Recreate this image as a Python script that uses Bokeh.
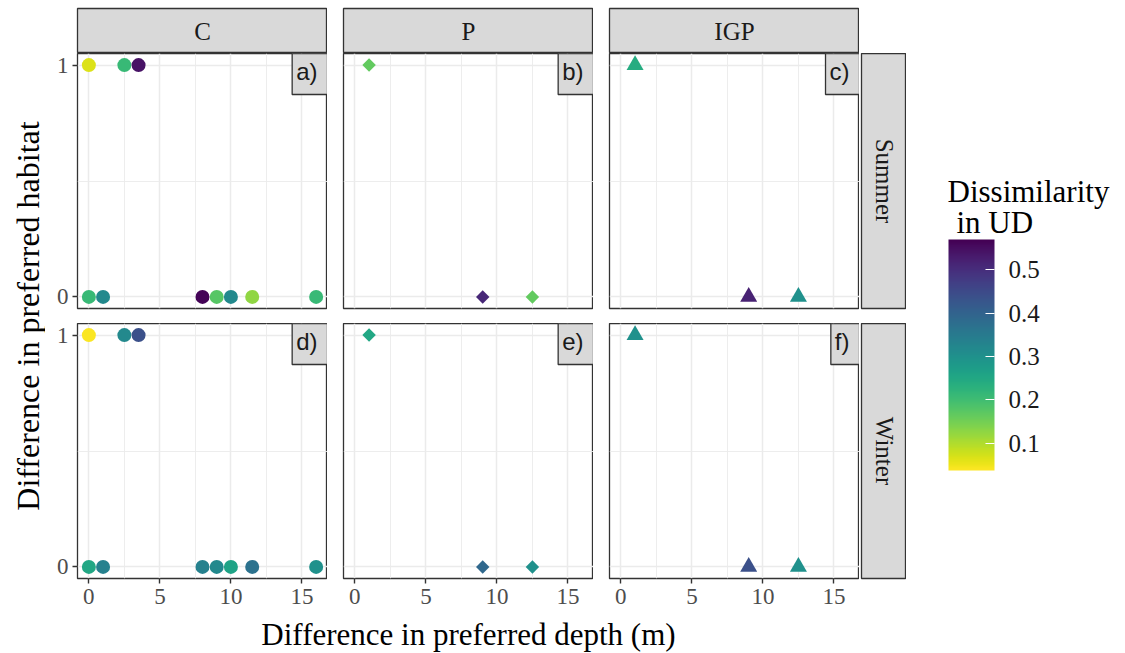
import numpy as np
from bokeh.plotting import figure
from bokeh.layouts import row, column
from bokeh.models import (Range1d, FixedTicker, LinearAxis, Grid, Label, ColorBar,
                          LinearColorMapper, ColumnDataSource)
from bokeh.palettes import Viridis256
from bokeh.core.properties import value
from bokeh.embed import file_html
from bokeh.resources import INLINE

# ---------------- data ----------------
sections = ["C", "P", "IGP"]
seasons = ["Summer", "Winter"]
tags = [["a)", "b)", "c)"], ["d)", "e)", "f)"]]
markers = ["circle", "square", "triangle"]

c_summer_depth = [0, 2.5, 3.5, 0, 1, 8, 9, 10, 11.5, 16]
c_summer_habitat = [1, 1, 1, 0, 0, 0, 0, 0, 0, 0]
c_summer_ud = [0.065, 0.21, 0.545, 0.21, 0.32, 0.565, 0.175, 0.32, 0.125, 0.21]

c_winter_depth = [0, 2.5, 3.5, 0, 1, 8, 9, 10, 11.5, 16]
c_winter_habitat = [1, 1, 1, 0, 0, 0, 0, 0, 0, 0]
c_winter_ud = [0.04, 0.32, 0.44, 0.25, 0.335, 0.335, 0.32, 0.26, 0.37, 0.30]

p_summer_depth = [1, 9, 12.5]
p_summer_habitat = [1, 0, 0]
p_summer_ud = [0.165, 0.51, 0.165]

p_winter_depth = [1, 9, 12.5]
p_winter_habitat = [1, 0, 0]
p_winter_ud = [0.25, 0.39, 0.30]

igp_summer_depth = [1, 9, 12.5]
igp_summer_habitat = [1, 0, 0]
igp_summer_ud = [0.24, 0.52, 0.30]

igp_winter_depth = [1, 9, 12.5]
igp_winter_habitat = [1, 0, 0]
igp_winter_ud = [0.30, 0.44, 0.30]

x_ticks = [0, 5, 10, 15]
x_minor = [2.5, 7.5, 12.5]
y_ticks = [0, 1]
legend_ticks = [0.1, 0.2, 0.3, 0.4, 0.5]
ud_low, ud_high = 0.037, 0.57

data = {
    ("Summer", "C"): (c_summer_depth, c_summer_habitat, c_summer_ud),
    ("Summer", "P"): (p_summer_depth, p_summer_habitat, p_summer_ud),
    ("Summer", "IGP"): (igp_summer_depth, igp_summer_habitat, igp_summer_ud),
    ("Winter", "C"): (c_winter_depth, c_winter_habitat, c_winter_ud),
    ("Winter", "P"): (p_winter_depth, p_winter_habitat, p_winter_ud),
    ("Winter", "IGP"): (igp_winter_depth, igp_winter_habitat, igp_winter_ud),
}

# ---------------- style ----------------
SERIF_NAME = "Liberation Serif"
SANS_NAME = "Liberation Sans"
SERIF = value(SERIF_NAME)
BORDER = "#333333"
GRIDC = "#ebebeb"
STRIPF = "#d9d9d9"
FW, FH = 250, 255
YLAB_W = 45
LEFT_C = 32
GAP = 16
ROW_GAP = 15
BOT = 36
TOP_STRIP_H = 45
TOP_MARGIN = 8
TICK_FS = "23px"
STRIP_FS = "25px"
TITLE_FS = "32px"

palette = list(reversed(Viridis256))
mapper = LinearColorMapper(palette=palette, low=ud_low, high=ud_high)

xr = (-0.8, 16.8)
yr = (-0.05, 1.05)


def base_fig(**kw):
    p = figure(x_axis_location=None, y_axis_location=None, toolbar_location=None,
               output_backend="svg", min_border_right=0, **kw)
    p.grid.visible = False
    return p


def panel(j, i):
    season, sec = seasons[j], sections[i]
    left = i == 0
    bottom = j == 1
    p = base_fig(frame_width=FW, frame_height=FH,
                 min_border_left=LEFT_C if left else GAP,
                 min_border_top=0,
                 min_border_bottom=BOT if bottom else ROW_GAP,
                 x_range=Range1d(*xr), y_range=Range1d(*yr))
    p.outline_line_color = BORDER
    p.outline_line_width = 1.3
    p.add_layout(Grid(dimension=0, ticker=FixedTicker(ticks=x_ticks, minor_ticks=x_minor),
                      grid_line_color=GRIDC, grid_line_width=1.5,
                      minor_grid_line_color=GRIDC, minor_grid_line_width=0.9))
    p.add_layout(Grid(dimension=1, ticker=FixedTicker(ticks=y_ticks, minor_ticks=[0.5]),
                      grid_line_color=GRIDC, grid_line_width=1.5,
                      minor_grid_line_color=GRIDC, minor_grid_line_width=0.9))
    axkw = dict(axis_line_color=None, major_tick_in=0, major_tick_out=5,
                major_tick_line_color=BORDER, major_tick_line_width=1.4,
                minor_tick_line_color=None,
                major_label_text_font=SERIF_NAME, major_label_text_font_size=TICK_FS,
                major_label_text_color="#4d4d4d")
    if left:
        p.add_layout(LinearAxis(ticker=FixedTicker(ticks=y_ticks), major_label_standoff=4, **axkw), "left")
    if bottom:
        p.add_layout(LinearAxis(ticker=FixedTicker(ticks=x_ticks), major_label_standoff=5, **axkw), "below")
    d, h, u = data[(season, sec)]
    src = ColumnDataSource(dict(x=d, y=h, ud=u))
    mk = markers[i]
    size = {"circle": 14, "square": 9.5, "triangle": 17}[mk]
    angle = np.pi / 4 if mk == "square" else 0
    p.scatter("x", "y", source=src, marker=mk, size=size, angle=angle,
              fill_color={"field": "ud", "transform": mapper}, line_color=None)
    p.add_layout(Label(x=xr[1], y=yr[1], text=tags[j][i], anchor="top_right",
                       text_font=SANS_NAME, text_font_size="24px", text_color="#1a1a1a",
                       background_fill_color=STRIPF, border_line_color=BORDER,
                       border_line_width=1.3, padding=(4, 10, 4, 10)))
    return p


def top_strip(i):
    s = base_fig(frame_width=FW, frame_height=TOP_STRIP_H,
                 min_border_left=LEFT_C if i == 0 else GAP,
                 min_border_top=TOP_MARGIN, min_border_bottom=0,
                 x_range=Range1d(0, 1), y_range=Range1d(0, 1),
                 background_fill_color=STRIPF)
    s.outline_line_color = BORDER
    s.outline_line_width = 1.3
    s.text(x=[0.5], y=[0.5], text=[sections[i]], text_align="center", text_baseline="middle",
           text_font=SERIF, text_font_size=STRIP_FS, text_color="#1a1a1a")
    return s


def side_strip(j):
    s = base_fig(frame_width=45, frame_height=FH, min_border_left=2,
                 min_border_top=0, min_border_bottom=BOT if j == 1 else ROW_GAP,
                 x_range=Range1d(0, 1), y_range=Range1d(0, 1),
                 background_fill_color=STRIPF)
    s.outline_line_color = BORDER
    s.outline_line_width = 1.3
    s.text(x=[0.5], y=[0.5], text=[seasons[j]], angle=-np.pi / 2, text_align="center",
           text_baseline="middle", text_font=SERIF, text_font_size=STRIP_FS, text_color="#1a1a1a")
    return s


top_row = row(*[top_strip(i) for i in range(3)])
summer_row = row(*[panel(0, i) for i in range(3)], side_strip(0))
winter_row = row(*[panel(1, i) for i in range(3)], side_strip(1))

panels_left = YLAB_W + LEFT_C
panels_right = panels_left + 3 * FW + 2 * GAP
panels_top = TOP_MARGIN + TOP_STRIP_H
panels_bottom = panels_top + 2 * FH + ROW_GAP
block_w = LEFT_C + 3 * FW + 2 * GAP + 2 + 45
used_h = TOP_MARGIN + TOP_STRIP_H + FH + ROW_GAP + FH + BOT
xlab_h = 653 - used_h

# x label
xl = base_fig(frame_width=block_w, frame_height=xlab_h, min_border_left=0, min_border_top=0,
              min_border_bottom=0, x_range=Range1d(YLAB_W, YLAB_W + block_w),
              y_range=Range1d(653, used_h))
xl.outline_line_color = None
xl.text(x=[(panels_left + panels_right) / 2], y=[(used_h + 653) / 2], text=["Difference in preferred depth (m)"],
        text_align="center", text_baseline="middle", text_font=SERIF, text_font_size="31px",
        text_color="#000000")

# y label
yl = base_fig(frame_width=YLAB_W, frame_height=653, min_border_left=0, min_border_top=0,
              min_border_bottom=0, x_range=Range1d(0, YLAB_W), y_range=Range1d(653, 0))
yl.outline_line_color = None
yl.text(x=[27], y=[(panels_top + panels_bottom) / 2], text=["Difference in preferred habitat"],
        angle=np.pi / 2, text_align="center", text_baseline="middle", text_font=SERIF,
        text_font_size=TITLE_FS, text_color="#000000")

# legend
leg_x0 = YLAB_W + block_w
leg_w = 1125 - leg_x0
lg = base_fig(frame_width=leg_w, frame_height=653, min_border_left=0, min_border_top=0,
              min_border_bottom=0, x_range=Range1d(leg_x0, 1125), y_range=Range1d(653, 0))
lg.outline_line_color = None
lg.text(x=[947, 956], y=[191, 222], text=["Dissimilarity", "in UD"], text_align="left",
        text_baseline="alphabetic", text_font=SERIF, text_font_size="31px", text_color="#000000")
cb = ColorBar(color_mapper=mapper, ticker=FixedTicker(ticks=legend_ticks), width=46, height=231,
              location=(948 - leg_x0, 653 - 470), padding=0, margin=0,
              major_tick_in=9, major_tick_out=0, major_tick_line_color="white",
              major_tick_line_width=1.2, minor_tick_line_color=None, bar_line_color=None,
              label_standoff=14, major_label_text_font=SERIF_NAME, major_label_text_font_size="25px",
              major_label_text_color="#1a1a1a", background_fill_color=None, border_line_color=None)
lg.add_layout(cb, "center")

layout = row(yl, column(top_row, summer_row, winter_row, xl), lg)

open("out.html", "w").write(file_html(layout, INLINE))
